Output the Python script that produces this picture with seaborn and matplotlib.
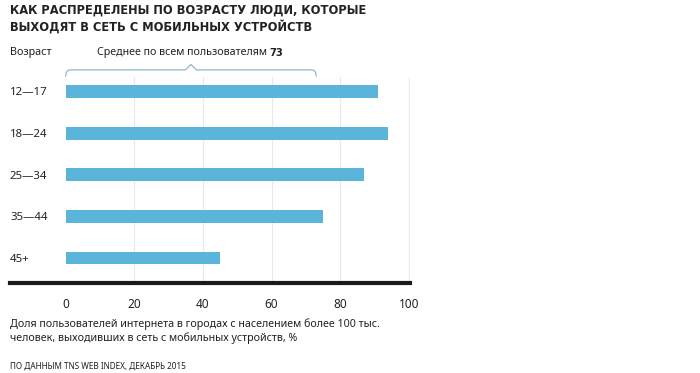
import matplotlib
matplotlib.use("Agg")
import matplotlib.pyplot as plt
import matplotlib.transforms as mtransforms
import seaborn as sns
import pandas as pd

# данные
ages = ["12—17", "18—24", "25—34", "35—44", "45+"]
shares = [91, 94, 87, 75, 45]
avg_value = 73
x_ticks = [0, 20, 40, 60, 80, 100]

title = "КАК РАСПРЕДЕЛЕНЫ ПО ВОЗРАСТУ ЛЮДИ, КОТОРЫЕ\nВЫХОДЯТ В СЕТЬ С МОБИЛЬНЫХ УСТРОЙСТВ"
note = ("Доля пользователей интернета в городах с населением более 100 тыс.\n"
        "человек, выходивших в сеть с мобильных устройств, %")
source = "ПО ДАННЫМ TNS WEB INDEX, ДЕКАБРЬ 2015"

df = pd.DataFrame({"age": ages, "share": shares})

sns.set_style("white")
plt.rcParams["font.family"] = ["Noto Sans", "DejaVu Sans"]

W, H = 700, 373
fig = plt.figure(figsize=(W / 100, H / 100), dpi=100)

# оси: слева 10px, справа 410px, сверху 62px, снизу 283px
left, right, top, bottom = 10, 410, 62, 283
ax = fig.add_axes([left / W, 1 - bottom / H, (right - left) / W, (bottom - top) / H])

bar_color = "#5bb4da"
sns.barplot(data=df, x="share", y="age", orient="h", color=bar_color,
            width=0.31, ax=ax, saturation=1, linewidth=0)

ax.set_xlim(-16.2, 100.3)
ax.set_ylim(4.6, -0.71)

# вертикальная сетка
for t in x_ticks[1:]:
    ax.plot([t, t], [4.6, -0.35], color="#e6e9ee", lw=0.8, zorder=0)

for s in ["top", "right", "left"]:
    ax.spines[s].set_visible(False)
ax.spines["bottom"].set_linewidth(3)
ax.spines["bottom"].set_color("#1a1a1a")

ax.set_xticks(x_ticks)
ax.set_xticklabels([str(t) for t in x_ticks], fontsize=8.5, color="#222222")
ax.tick_params(axis="x", length=9, width=0.8, color="#dddddd", pad=2, direction="out")
ax.xaxis.get_major_ticks()[0].tick1line.set_color("#888888")
ax.set_yticks([])
ax.set_xlabel("")
ax.set_ylabel("")

# подписи возрастов
trans = mtransforms.blended_transform_factory(ax.transAxes, ax.transData)
for i, a in enumerate(ages):
    ax.text(0, i + 0.03, a, transform=trans, ha="left", va="center",
            fontsize=8.2, color="#222222")

# скобка среднего значения
bc = "#8fb9c9"
yb, yt, yp = -0.37, -0.52, -0.65
mid = avg_value / 2
bx = [0, 0.2, 0.6, 1.4, mid - 1.6, mid, mid + 1.6, avg_value - 1.4, avg_value - 0.6,
      avg_value - 0.2, avg_value]
by = [yb, yt + 0.06, yt + 0.015, yt, yt, yp, yt, yt, yt + 0.015, yt + 0.06, yb]
ax.plot(bx, by, color=bc, lw=0.9, clip_on=False, solid_joinstyle="round")

# тексты
fig.text(10 / W, 1 - 4 / H, title, ha="left", va="top", fontsize=8.3,
         fontweight="bold", family="DejaVu Sans", color="#222222", linespacing=1.2)
fig.text(10 / W, 1 - 53 / H, "Возраст", ha="left", va="center", fontsize=7.8,
         color="#222222")
t1 = fig.text(97 / W, 1 - 53 / H, "Среднее по всем пользователям ", ha="left",
              va="center", fontsize=7.7, color="#222222")
fig.canvas.draw()
bb = t1.get_window_extent()
fig.text(bb.x1 / W, 1 - 53 / H, str(avg_value), ha="left", va="center",
         fontsize=7.2, fontweight="bold", family="DejaVu Sans", color="#222222")

fig.text(10 / W, 1 - 331 / H, note, ha="left", va="center", fontsize=7.7,
         color="#222222", linespacing=1.3)
fig.text(10 / W, 1 - 366 / H, source, ha="left", va="center", fontsize=5.9,
         color="#222222")

fig.savefig("out.png", dpi=100)
